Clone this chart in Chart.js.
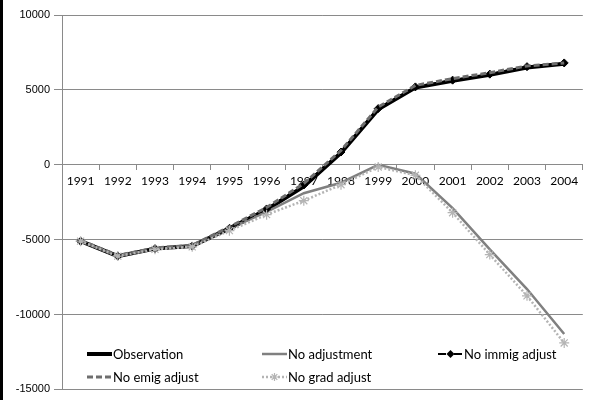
<!DOCTYPE html>
<html>
<head>
<meta charset="utf-8">
<script src="https://cdn.jsdelivr.net/npm/chart.js@4/dist/chart.umd.min.js"></script>
<style>
  html,body{margin:0;padding:0;background:#fff;}
  #wrap{position:relative;width:589px;height:400px;}
  #edge{position:absolute;left:0;top:0;width:3px;height:400px;background:#000;}
</style>
</head>
<body>
<div id="wrap"><canvas id="c" width="589" height="400"></canvas><div id="edge"></div></div>
<script>
// values
const years = ['1991','1992','1993','1994','1995','1996','1997','1998','1999','2000','2001','2002','2003','2004'];
const observation = [-5100,-6100,-5600,-5430,-4250,-3000,-1450,800,3700,5150,5600,6000,6500,6750];
const noAdjustment = [-5100,-6100,-5600,-5430,-4250,-3150,-1900,-1200,0,-600,-2900,-5650,-8300,-11300];
const noImmig = [-5100,-6100,-5600,-5430,-4250,-2950,-1350,850,3750,5200,5650,6050,6550,6800];
const noEmig = [-5050,-6050,-5550,-5380,-4150,-2850,-1250,950,3850,5300,5750,6150,6600,6800];
const noGrad = [-5100,-6100,-5650,-5480,-4400,-3330,-2400,-1330,-150,-700,-3200,-6000,-8750,-11900];
const yTicks = [10000,5000,0,-5000,-10000,-15000];

const GRID = '#8a8a8a';
const series = [
  {label:'Observation', data:observation, color:'#000', width:4, dash:[], point:false},
  {label:'No adjustment', data:noAdjustment, color:'#808080', width:2.5, dash:[], point:false},
  {label:'No immig adjust', data:noImmig, color:'#000', width:2, dash:[8,3,2,3], point:'rectRot'},
  {label:'No emig adjust', data:noEmig, color:'#6e6e6e', width:3, dash:[6,3], point:false},
  {label:'No grad adjust', data:noGrad, color:'#b4b4b4', width:2.5, dash:[2,2], point:'star'}
];

// legend drawn inside the plot, like the excel one
const legendPlugin = {
  id:'xlLegend',
  afterDraw(chart){
    const ctx = chart.ctx;
    const slots = [[87,354],[262,354],[438,354],[87,377],[262,377]];
    ctx.save();
    series.forEach((s,i)=>{
      const [x,y] = slots[i];
      ctx.strokeStyle = s.color; ctx.lineWidth = s.width; ctx.setLineDash(s.dash);
      ctx.beginPath(); ctx.moveTo(x,y); ctx.lineTo(x+25,y); ctx.stroke();
      ctx.setLineDash([]);
      if(s.point==='rectRot'){
        ctx.fillStyle = '#000';
        ctx.beginPath(); ctx.moveTo(x+12.5,y-4); ctx.lineTo(x+16.5,y); ctx.lineTo(x+12.5,y+4); ctx.lineTo(x+8.5,y); ctx.closePath(); ctx.fill();
      } else if(s.point==='star'){
        ctx.strokeStyle = s.color; ctx.lineWidth = 1.2;
        const r=4, cx=x+12.5;
        ctx.beginPath();
        ctx.moveTo(cx-r,y); ctx.lineTo(cx+r,y);
        ctx.moveTo(cx,y-r); ctx.lineTo(cx,y+r);
        ctx.moveTo(cx-r*0.7,y-r*0.7); ctx.lineTo(cx+r*0.7,y+r*0.7);
        ctx.moveTo(cx-r*0.7,y+r*0.7); ctx.lineTo(cx+r*0.7,y-r*0.7);
        ctx.stroke();
      }
      ctx.fillStyle = '#000'; ctx.font = '13px Lato'; ctx.textBaseline = 'middle';
      ctx.fillText(s.label, x+26, y+1);
    });
    ctx.restore();
  }
};

new Chart(document.getElementById('c'), {
  type:'line',
  data:{
    labels: years,
    datasets: series.map((s,i)=>({
      label:s.label, data:s.data,
      borderColor:s.color, backgroundColor:s.color, borderWidth:s.width, borderDash:s.dash,
      pointStyle:s.point || 'circle',
      pointRadius:s.point ? (s.point==='star' ? 5 : 4) : 0,
      pointBorderWidth:s.point==='star' ? 1.2 : 1,
      pointBorderColor:s.color, pointBackgroundColor:s.color,
      tension:0, fill:false,
      order: series.length - i
    }))
  },
  options:{
    responsive:false, animation:false,
    layout:{padding:{top:15, bottom:9, right:0, left:0}},
    plugins:{legend:{display:false}, tooltip:{enabled:false}},
    scales:{
      x:{
        position:{y:0},
        offset:true,
        grid:{drawOnChartArea:false, offset:true, tickLength:5, color:GRID},
        border:{display:true, color:GRID},
        ticks:{font:{family:'Lato', size:12}, color:'#000', padding:4, maxRotation:0, autoSkip:false}
      },
      y:{
        min:-15000, max:10000,
        afterBuildTicks(scale){ scale.ticks = yTicks.map(v=>({value:v})); },
        afterFit(scale){ scale.width = 62; },
        grid:{color:GRID, tickLength:8},
        border:{display:true, color:GRID},
        ticks:{font:{family:'Liberation Sans', size:11}, color:'#000', padding:4, callback:(v)=>String(v)}
      }
    }
  },
  plugins:[legendPlugin]
});
</script>
</body>
</html>
